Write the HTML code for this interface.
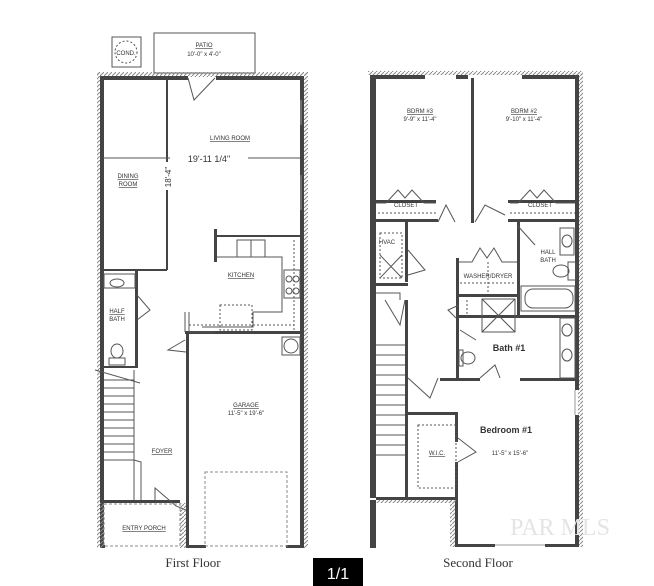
<!DOCTYPE html>
<html><head><meta charset="utf-8"><style>
html,body{margin:0;padding:0;background:#fff;}
svg{display:block;}
text{font-family:"Liberation Sans",sans-serif;fill:#333;}
</style></head><body>
<svg width="654" height="586" viewBox="0 0 654 586" xmlns="http://www.w3.org/2000/svg">
<defs>
<pattern id="h" width="4" height="4" patternUnits="userSpaceOnUse"><path d="M0 4L4 0" stroke="#888" stroke-width="1"/></pattern>
</defs>
<rect width="654" height="586" fill="#fff"/>
<g fill="none" stroke="#555" stroke-width="1">
<rect x="112" y="37" width="29" height="30"/>
<circle cx="126" cy="52" r="11" stroke-dasharray="2,2"/>
<rect x="154" y="33" width="101" height="40"/>
</g>
<text x="126" y="55" font-size="6" text-anchor="middle">COND.</text>
<text x="204" y="47" font-size="6" text-anchor="middle" text-decoration="underline">PATIO</text>
<text x="204" y="56" font-size="6" text-anchor="middle">10'-0" x 4'-0"</text>
<rect x="97" y="72" width="211" height="5" fill="url(#h)"/>
<rect x="303" y="72" width="5" height="476" fill="url(#h)"/>
<rect x="97" y="72" width="4" height="476" fill="url(#h)"/>
<g fill="#444">
<rect x="100" y="77" width="4" height="470"/>
<rect x="100" y="76" width="88" height="4"/>
<rect x="216" y="76" width="88" height="4"/>
<rect x="300" y="76" width="4" height="470"/>
<rect x="100" y="269" width="67" height="2"/>
<rect x="166" y="78" width="2" height="84"/>
<rect x="166" y="190" width="2" height="80"/>
<rect x="214" y="229" width="3" height="33"/>
<rect x="214" y="235" width="88" height="2"/>
<rect x="185" y="331" width="117" height="3"/>
<rect x="186" y="333" width="3" height="213"/>
<rect x="135" y="270" width="3" height="98"/>
<rect x="100" y="366" width="38" height="2"/>
<rect x="100" y="500" width="80" height="3"/>
<rect x="100" y="545" width="5" height="3"/>
<rect x="186" y="545" width="20" height="3"/>
<rect x="286" y="545" width="18" height="3"/>
</g>
<g fill="none" stroke="#555" stroke-width="1">
<line x1="103" y1="158" x2="300" y2="158"/>
<path d="M188 78 L194 100 L215 78"/>
<line x1="301" y1="100" x2="301" y2="125" stroke="#999"/>
<line x1="301" y1="175" x2="301" y2="210" stroke="#999"/>
<rect x="237" y="240" width="28" height="17"/>
<line x1="251" y1="240" x2="251" y2="257"/>
<path d="M217 257 L282 257 L282 312 L253 312 L253 327 L202 327"/>
<rect x="284" y="270" width="16" height="28"/>
<circle cx="289" cy="279" r="3"/><circle cx="296" cy="279" r="3"/><circle cx="289" cy="291" r="3"/><circle cx="296" cy="291" r="3"/>
<rect x="220" y="305" width="32" height="25" stroke-dasharray="2,2"/>
<line x1="294" y1="240" x2="294" y2="330" stroke-dasharray="2,2"/>
<line x1="189" y1="325" x2="294" y2="325" stroke-dasharray="2,2"/>
<path d="M185 312 L185 332 M189 312 L189 332 L215 332"/>
<rect x="282" y="337" width="18" height="18"/>
<circle cx="291" cy="346" r="7"/>
<path d="M186 352 L168 350 L185 340"/>
<rect x="104" y="274" width="31" height="14"/>
<ellipse cx="117" cy="283" rx="7" ry="4"/>
<path d="M137 295 L150 310 L137 320"/>
<ellipse cx="117" cy="351" rx="6" ry="7"/>
<rect x="109" y="358" width="16" height="7"/>
<path d="M95 370 L140 383" />
<line x1="104" y1="380" x2="134" y2="380"/>
<line x1="104" y1="388" x2="134" y2="388"/>
<line x1="104" y1="396" x2="134" y2="396"/>
<line x1="104" y1="404" x2="134" y2="404"/>
<line x1="104" y1="412" x2="134" y2="412"/>
<line x1="104" y1="420" x2="134" y2="420"/>
<line x1="104" y1="428" x2="134" y2="428"/>
<line x1="104" y1="436" x2="134" y2="436"/>
<line x1="104" y1="444" x2="134" y2="444"/>
<line x1="104" y1="452" x2="134" y2="452"/>
<line x1="104" y1="460" x2="134" y2="460"/>
<line x1="134" y1="370" x2="134" y2="465"/>
<path d="M134 460 L141 462 L141 500 M134 465 L134 500"/>
<path d="M155 500 L155 488 L176 506 L186 510"/>
<rect x="205" y="472" width="82" height="74" stroke-dasharray="3,2" stroke="#888"/>
<rect x="104" y="504" width="76" height="42" stroke-dasharray="3,2" stroke="#888"/>
</g>
<rect x="100" y="503" width="4" height="45" fill="url(#h)"/>
<rect x="180" y="503" width="6" height="45" fill="url(#h)"/>
<g font-size="6" text-anchor="middle">
<text x="230" y="140" text-decoration="underline">LIVING ROOM</text>
<rect x="170" y="152" width="78" height="12" fill="#fff"/>
<text x="209" y="162" font-size="9">19'-11 1/4"</text>
<text x="128" y="178" text-decoration="underline">DINING</text>
<text x="128" y="186" text-decoration="underline">ROOM</text>
<text x="171" y="177" font-size="8" transform="rotate(-90 171 177)">18'-4"</text>
<text x="241" y="277" text-decoration="underline">KITCHEN</text>
<text x="117" y="313" text-decoration="underline">HALF</text>
<text x="117" y="321">BATH</text>
<text x="246" y="407" text-decoration="underline">GARAGE</text>
<text x="246" y="415">11'-5" x 19'-6"</text>
<text x="162" y="453" text-decoration="underline">FOYER</text>
<text x="144" y="530" text-decoration="underline">ENTRY PORCH</text>
</g>
<text x="193" y="567" font-size="13" text-anchor="middle" style="font-family:'Liberation Serif',serif">First Floor</text>

<rect x="368" y="71" width="214" height="4" fill="url(#h)"/>
<rect x="578" y="71" width="5" height="476" fill="url(#h)"/>
<g fill="#444">
<rect x="370" y="75" width="6" height="423"/>
<rect x="370" y="75" width="55" height="4"/>
<rect x="456" y="75" width="12" height="4"/>
<rect x="522" y="75" width="57" height="4"/>
<rect x="575" y="75" width="4" height="120"/>
<rect x="575" y="190" width="4" height="200"/>
<rect x="575" y="415" width="4" height="132"/>
<rect x="471" y="78" width="3" height="145"/>
<rect x="376" y="200" width="60" height="3"/>
<rect x="376" y="219" width="62" height="3"/>
<rect x="508" y="200" width="67" height="3"/>
<rect x="508" y="219" width="67" height="3"/>
<rect x="405" y="222" width="3" height="60"/>
<rect x="376" y="283" width="32" height="3"/>
<rect x="405" y="300" width="3" height="197"/>
<rect x="456" y="258" width="3" height="60"/>
<rect x="517" y="222" width="3" height="95"/>
<rect x="456" y="294" width="64" height="3"/>
<rect x="456" y="315" width="121" height="3"/>
<rect x="456" y="318" width="3" height="62"/>
<rect x="440" y="378" width="40" height="3"/>
<rect x="520" y="378" width="57" height="3"/>
<rect x="408" y="412" width="50" height="3"/>
<rect x="455" y="412" width="3" height="30"/>
<rect x="455" y="462" width="3" height="85"/>
<rect x="376" y="497" width="82" height="3"/>
<rect x="370" y="500" width="6" height="48"/>
<rect x="455" y="544" width="40" height="3"/>
<rect x="545" y="544" width="34" height="3"/>
</g>
<rect x="376" y="500" width="80" height="3" fill="url(#h)"/>
<rect x="450" y="500" width="5" height="47" fill="url(#h)"/>
<g fill="none" stroke="#555" stroke-width="1">
<path d="M376 203 L386 203 L398 190 L405 198 L412 190 L424 203 L436 203"/>
<line x1="378" y1="213" x2="436" y2="213" stroke-dasharray="2,2"/>
<path d="M510 203 L518 203 L530 190 L537 198 L544 190 L556 203 L575 203"/>
<line x1="510" y1="213" x2="575" y2="213" stroke-dasharray="2,2"/>
<path d="M438 222 L446 205 L455 222"/>
<path d="M475 222 L485 205 L505 215"/>
<path d="M517 225 L535 245"/>
<rect x="380" y="233" width="22" height="45" stroke-dasharray="2,2"/>
<path d="M380 255 L402 278 M402 255 L380 278"/>
<path d="M408 250 L425 270 L408 275"/>
<path d="M376 293 L400 293 L400 300"/>
<path d="M385 300 L400 325 L405 300"/>
<path d="M459 262 L472 262 L480 248 L487 258 L494 248 L502 262 L517 262"/>
<line x1="460" y1="283" x2="515" y2="283" stroke-dasharray="2,2"/>
<line x1="488" y1="262" x2="488" y2="294" stroke-dasharray="2,2"/>
<rect x="560" y="228" width="14" height="27"/>
<ellipse cx="567" cy="241" rx="5" ry="6"/>
<rect x="568" y="262" width="8" height="18"/>
<ellipse cx="561" cy="271" rx="8" ry="6"/>
<rect x="521" y="286" width="54" height="25"/>
<rect x="525" y="289" width="48" height="19" rx="8"/>
<rect x="482" y="299" width="33" height="33"/>
<path d="M482 299 L515 332 M515 299 L482 332"/>
<path d="M459 305 L448 310 L456 318"/>
<line x1="467" y1="300" x2="467" y2="317" stroke-dasharray="2,2"/>
<ellipse cx="468" cy="358" rx="7" ry="6"/>
<rect x="459" y="350" width="4" height="16"/>
<line x1="460" y1="330" x2="476" y2="340"/>
<rect x="560" y="318" width="15" height="60"/>
<ellipse cx="567" cy="330" rx="5" ry="6"/>
<ellipse cx="567" cy="355" rx="5" ry="6"/>
<path d="M480 378 L495 365 L500 378"/>
<path d="M408 378 L430 398 L438 378"/>
<line x1="376" y1="345" x2="405" y2="345"/>
<line x1="376" y1="355" x2="405" y2="355"/>
<line x1="376" y1="365" x2="405" y2="365"/>
<line x1="376" y1="375" x2="405" y2="375"/>
<line x1="376" y1="385" x2="405" y2="385"/>
<line x1="376" y1="395" x2="405" y2="395"/>
<line x1="376" y1="405" x2="405" y2="405"/>
<line x1="376" y1="415" x2="405" y2="415"/>
<line x1="376" y1="425" x2="405" y2="425"/>
<line x1="376" y1="435" x2="405" y2="435"/>
<line x1="376" y1="445" x2="405" y2="445"/>
<line x1="376" y1="455" x2="405" y2="455"/>
<rect x="418" y="425" width="38" height="63" stroke-dasharray="2,2"/>
<path d="M458 438 L476 452 L458 462"/>
<line x1="575" y1="390" x2="575" y2="415" stroke="#999"/>
<line x1="495" y1="545" x2="545" y2="545" stroke="#999"/>
</g>
<g font-size="6" text-anchor="middle">
<text x="420" y="113" text-decoration="underline">BDRM #3</text>
<text x="420" y="121">9'-9" x 11'-4"</text>
<text x="524" y="113" text-decoration="underline">BDRM #2</text>
<text x="524" y="121">9'-10" x 11'-4"</text>
<text x="406" y="207">CLOSET</text>
<text x="540" y="207">CLOSET</text>
<text x="387" y="244">HVAC</text>
<text x="548" y="254">HALL</text>
<text x="548" y="262">BATH</text>
<text x="488" y="278">WASHER/DRYER</text>
<text x="437" y="455" text-decoration="underline">W.I.C.</text>
<text x="510" y="455">11'-5" x 15'-6"</text>
</g>
<text x="509" y="351" font-size="9" font-weight="bold" text-anchor="middle">Bath #1</text>
<text x="506" y="433" font-size="9" font-weight="bold" text-anchor="middle">Bedroom #1</text>
<text x="478" y="567" font-size="13" text-anchor="middle" style="font-family:'Liberation Serif',serif">Second Floor</text>
<text x="560" y="535" font-size="24" text-anchor="middle" style="font-family:'Liberation Serif',serif;fill:#e4e4e4">PAR MLS</text>
<rect x="313" y="558" width="50" height="28" fill="#000"/>
<text x="338" y="579" font-size="16" text-anchor="middle" style="fill:#fff">1/1</text>
</svg>
</body></html>
